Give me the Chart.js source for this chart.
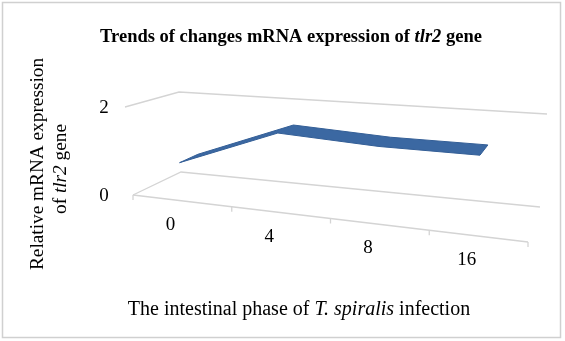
<!DOCTYPE html>
<html>
<head>
<meta charset="utf-8">
<script src="https://cdn.jsdelivr.net/npm/chart.js@4/dist/chart.umd.min.js"></script>
<style>
  html, body { margin:0; padding:0; background:#fff; }
  #wrap { width:565px; height:341px; }
</style>
</head>
<body>
<div id="wrap"><canvas id="chart" width="565" height="341"></canvas></div>
<script>
// —————— DATA ——————
const categories = ['0', '4', '8', '16'];
const expression = [0.85, 1.7, 1.6, 1.6];
const yTicks     = [0, 2];

// —————— 3D BOX (back wall / floor corners) ——————
const BOX = {
  BL:[181,172], BR:[540,207], TL:[179,92],  TR:[547,114],
  FL:[133,195], FR:[528,242], FTL:[125,107], FTR:[531,139]
};
const SERIF = '"Liberation Serif", "Times New Roman", serif';
const GRID  = '#d4d4d4';

function lerp(a,b,t){ return [a[0]+(b[0]-a[0])*t, a[1]+(b[1]-a[1])*t]; }
// u: along categories, w: along value axis, z: depth (0 back, 1 front)
function project(u,w,z){
  const bot = lerp(lerp(BOX.BL,BOX.BR,u), lerp(BOX.FL,BOX.FR,u), z);
  const top = lerp(lerp(BOX.TL,BOX.TR,u), lerp(BOX.FTL,BOX.FTR,u), z);
  return lerp(bot, top, w);
}

// text made of plain / italic runs, centred on cx
function drawRuns(ctx, runs, cx, cy, size, bold){
  const w8 = bold ? 'bold ' : '';
  let total = 0;
  runs.forEach(r=>{ ctx.font = (r.i?'italic ':'')+w8+size+'px '+SERIF; r.w = ctx.measureText(r.t).width; total += r.w; });
  let x = cx - total/2;
  ctx.textAlign = 'left'; ctx.textBaseline = 'middle';
  runs.forEach(r=>{ ctx.font = (r.i?'italic ':'')+w8+size+'px '+SERIF; ctx.fillText(r.t, x, cy); x += r.w; });
}

const box3d = {
  id:'box3d',
  afterDraw(chart){
    const { ctx, chartArea:a, scales:{ x, y } } = chart;
    const uOf = i => (x.getPixelForValue(i) - a.left) / (a.right - a.left);
    const wOf = v => (a.bottom - y.getPixelForValue(v)) / (a.bottom - a.top);
    ctx.save();

    // outer frame
    ctx.strokeStyle = '#d0d0d0'; ctx.lineWidth = 1.5;
    ctx.strokeRect(2.5, 2.5, 558, 335);

    // gridlines on left wall + back wall
    ctx.strokeStyle = GRID; ctx.lineWidth = 1.3;
    yTicks.forEach(v=>{
      const w = wOf(v);
      const p1 = project(0,w,1), p2 = project(0,w,0), p3 = project(1,w,0);
      ctx.beginPath(); ctx.moveTo(p1[0],p1[1]); ctx.lineTo(p2[0],p2[1]); ctx.lineTo(p3[0],p3[1]); ctx.stroke();
    });
    // floor front edge with tick marks
    const f0 = project(0,0,1), f1 = project(1,0,1);
    ctx.beginPath(); ctx.moveTo(f0[0],f0[1]); ctx.lineTo(f1[0],f1[1]); ctx.stroke();
    for(let k=0;k<=categories.length;k++){
      const p = project(k/categories.length,0,1);
      ctx.beginPath(); ctx.moveTo(p[0],p[1]); ctx.lineTo(p[0],p[1]+5); ctx.stroke();
    }

    // ribbon (top face of the 3D line)
    const front = expression.map((v,i)=>project(uOf(i), wOf(v), 1.0));
    const back  = expression.map((v,i)=>project(uOf(i), wOf(v), 0.6));
    ctx.beginPath();
    front.forEach((p,i)=> i ? ctx.lineTo(p[0],p[1]) : ctx.moveTo(p[0],p[1]));
    back.slice().reverse().forEach(p=>ctx.lineTo(p[0],p[1]));
    ctx.closePath();
    ctx.fillStyle = '#3b68a2'; ctx.fill();
    ctx.strokeStyle = '#335e96'; ctx.lineWidth = 1; ctx.stroke();

    // value tick labels
    ctx.fillStyle = '#000';
    ctx.font = '19px '+SERIF; ctx.textAlign = 'center'; ctx.textBaseline = 'middle';
    yTicks.forEach(v=>{
      const p = project(0, wOf(v), 1);
      ctx.fillText(String(v), 104, p[1]+1);
    });
    // category labels under the front edge
    categories.forEach((c,i)=>{
      const p = project(uOf(i), 0, 1);
      ctx.fillText(c, p[0]-12, p[1]+24);
    });

    // titles
    drawRuns(ctx, [{t:'Trends of changes mRNA expression of '},{t:'tlr2',i:1},{t:' gene'}], 291, 37, 18.5, true);
    drawRuns(ctx, [{t:'The intestinal phase of '},{t:'T. spiralis',i:1},{t:' infection'}], 299, 310, 20, false);
    ctx.save();
    ctx.translate(38, 164); ctx.rotate(-Math.PI/2);
    drawRuns(ctx, [{t:'Relative mRNA expression'}], 0, 0, 19.3, false);
    ctx.restore();
    ctx.save();
    ctx.translate(61, 169); ctx.rotate(-Math.PI/2);
    drawRuns(ctx, [{t:'of '},{t:'tlr2',i:1},{t:' gene'}], 0, 0, 19.3, false);
    ctx.restore();

    ctx.restore();
  }
};

window.addEventListener('DOMContentLoaded', function () {
  new Chart(document.getElementById('chart'), {
    type:'line',
    data:{
      labels: categories,
      datasets:[{ label:'tlr2', data: expression, showLine:false, pointRadius:0, borderWidth:0 }]
    },
    options:{
      responsive:false,
      animation:false,
      layout:{ padding:0 },
      scales:{
        x:{ type:'category', offset:true, display:false },
        y:{ min:0, max:2, display:false }
      },
      plugins:{ legend:{ display:false }, tooltip:{ enabled:false }, title:{ display:false } }
    },
    plugins:[box3d]
  });
});
</script>
</body>
</html>
